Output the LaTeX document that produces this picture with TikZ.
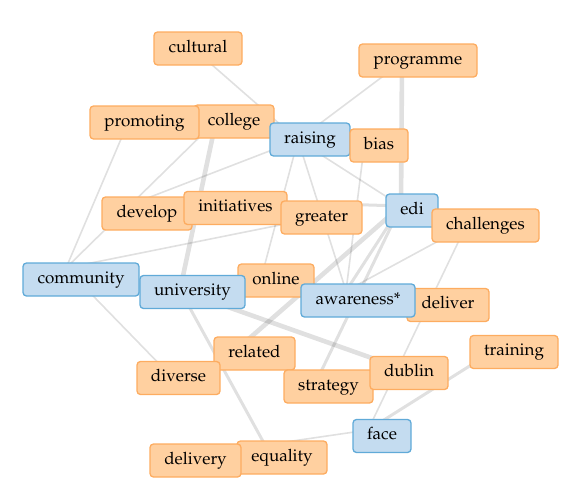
\documentclass[tikz,border=0pt]{standalone}
\usepackage[T1]{fontenc}
\usepackage{mathpazo}
\definecolor{oFill}{RGB}{255,208,160}
\definecolor{oBorder}{RGB}{253,172,96}
\definecolor{bFill}{RGB}{196,220,240}
\definecolor{bBorder}{RGB}{96,170,216}
\tikzset{
  lbl/.style={rectangle, rounded corners=3.5pt, line width=1.3pt, minimum height=33pt,
    inner sep=0pt, text height=11pt, text depth=3.4pt, text=black,
    font=\fontsize{17}{19}\selectfont},
  ob/.style={lbl, draw=oBorder, fill=oFill},
  bb/.style={lbl, draw=bBorder, fill=bFill},
  edgebase/.style={draw=black, opacity=.12, line cap=butt},
  ethin/.style={edgebase, line width=1.6pt},
  emid/.style={edgebase, line width=3pt},
  ethick/.style={edgebase, line width=4.6pt}
}
\begin{document}
\begin{tikzpicture}[x=1pt,y=-1pt]
\useasboundingbox (0,0) rectangle (570,498);
% graph vertices
\coordinate (vcultural) at (195,50);
\coordinate (vprogramme) at (402,62);
\coordinate (vpromoting) at (127,125);
\coordinate (vcollege) at (216,121);
\coordinate (vraising) at (298,140);
\coordinate (vbias) at (364,148);
\coordinate (vdevelop) at (145,199);
\coordinate (vinitiatives) at (240,201);
\coordinate (vgreater) at (300,221);
\coordinate (vedi) at (401,206);
\coordinate (vchallenges) at (466,226);
\coordinate (vcommunity) at (66,268);
\coordinate (vuniversity) at (180,290);
\coordinate (vonline) at (262,275);
\coordinate (vawareness) at (346,291);
\coordinate (vrelated) at (236,350);
\coordinate (vdiverse) at (170,375);
\coordinate (vstrategy) at (316,382);
\coordinate (vdublin) at (400,368);
\coordinate (vtraining) at (495,350);
\coordinate (vface) at (368,430);
\coordinate (vequality) at (265,445);
% connectors
\draw[ethin] (vcultural) -- (vraising);
\draw[ethin] (vprogramme) -- (vraising);
\draw[ethick] (vprogramme) -- (vedi);
\draw[ethin] (vpromoting) -- (vcommunity);
\draw[ethin] (vcollege) -- (vcommunity);
\draw[ethick] (vcollege) -- (vuniversity);
\draw[ethin] (vraising) -- (vdevelop);
\draw[ethin] (vraising) -- (vonline);
\draw[ethin] (vraising) -- (vawareness);
\draw[ethin] (vraising) -- (vedi);
\draw[ethin] (vbias) -- (vawareness);
\draw[emid] (vinitiatives) -- (vedi);
\draw[ethin] (vcommunity) -- (vgreater);
\draw[ethin] (vcommunity) -- (vdiverse);
\draw[ethick] (vedi) -- (vrelated);
\draw[emid] (vedi) -- (vawareness);
\draw[emid] (vedi) -- (vstrategy);
\draw[ethin] (vchallenges) -- (vawareness);
\draw[ethin] (vchallenges) -- (vface);
\draw[ethick] (vuniversity) -- (vdublin);
\draw[emid] (vuniversity) -- (vequality);
\draw[emid] (vtraining) -- (vface);
\draw[ethin] (vface) -- (vequality);
% labels
\node[ob, minimum width=88pt] (cultural) at (198,48.5) {cultural};
\node[ob, minimum width=118pt] (programme) at (418,60.5) {programme};
\node[ob, minimum width=80pt] (college) at (234,121.5) {college};
\node[ob, minimum width=109pt] (promoting) at (144.5,122.5) {promoting};
\node[bb, minimum width=80pt] (raising) at (310,139.5) {raising};
\node[ob, minimum width=58pt] (bias) at (379,145.5) {bias};
\node[ob, minimum width=90pt] (develop) at (147,213.5) {develop};
\node[ob, minimum width=103pt] (initiatives) at (235.5,208) {initiatives};
\node[ob, minimum width=81pt] (greater) at (321.5,217.5) {greater};
\node[bb, minimum width=52pt] (edi) at (412,210.5) {edi};
\node[ob, minimum width=107pt] (challenges) at (485.5,225.5) {challenges};
\node[bb, minimum width=116pt] (community) at (81,279.5) {community};
\node[ob, minimum width=76pt] (online) at (276,280.5) {online};
\node[bb, minimum width=105pt] (university) at (192.5,292) {university};
\node[ob, minimum width=82pt] (deliver) at (448,305) {deliver};
\node[bb, minimum width=114pt] (awareness) at (358,300.5) {awareness*};
\node[ob, minimum width=81pt] (related) at (254.5,353.5) {related};
\node[ob, minimum width=83pt] (diverse) at (178.5,378) {diverse};
\node[ob, minimum width=89pt] (strategy) at (328.5,386.5) {strategy};
\node[ob, minimum width=78pt] (dublin) at (409,373) {dublin};
\node[ob, minimum width=88pt] (training) at (514,352) {training};
\node[bb, minimum width=58pt] (face) at (382,436) {face};
\node[ob, minimum width=90pt] (equality) at (282,457.5) {equality};
\node[ob, minimum width=91pt] (delivery) at (195.5,460.5) {delivery};
\end{tikzpicture}
\end{document}
